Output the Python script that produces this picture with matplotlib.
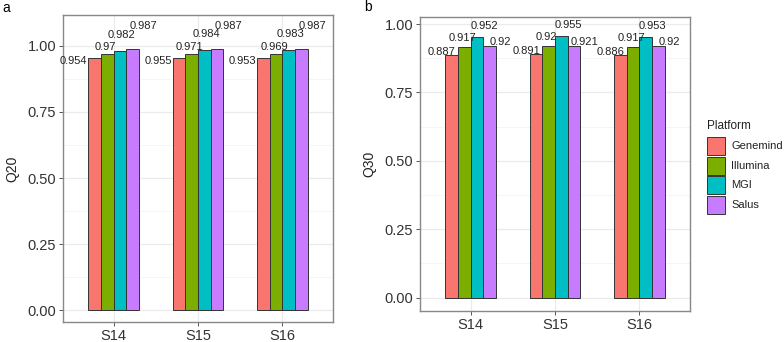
import matplotlib.pyplot as plt
from matplotlib.patches import Rectangle

samples = ['S14', 'S15', 'S16']
platforms = ['Genemind', 'Illumina', 'MGI', 'Salus']
colors = ['#F8766D', '#7CAE00', '#00BFC4', '#C77CFF']

q20 = {
    'Genemind': [0.954, 0.955, 0.953],
    'Illumina': [0.97, 0.971, 0.969],
    'MGI': [0.982, 0.984, 0.983],
    'Salus': [0.987, 0.987, 0.987],
}
q30 = {
    'Genemind': [0.887, 0.891, 0.886],
    'Illumina': [0.917, 0.92, 0.917],
    'MGI': [0.952, 0.955, 0.953],
    'Salus': [0.92, 0.921, 0.92],
}

plt.rcParams['font.family'] = ['Liberation Sans', 'DejaVu Sans']

W, H = 784, 342
fig = plt.figure(figsize=(W / 100, H / 100), dpi=100)


def px_axes(l, t, r, b):
    return fig.add_axes([l / W, 1 - b / H, (r - l) / W, (b - t) / H])


bar_w = 0.15
offs = [-0.225, -0.075, 0.075, 0.225]
# label nudges in pixels (x, y), as seen in the picture
nudge_a = [(-21, -3), (-2, 7), (2, 16), (11, 23)]
nudge_b = [(-10, 3), (-2, 9), (7, 11), (11, 4)]


def panel(ax, data, ylab, ylim, nudges):
    ax.set_facecolor('white')
    ax.set_xlim(0.4, 3.6)
    ax.set_ylim(*ylim)
    ax.set_yticks([0, 0.25, 0.5, 0.75, 1.0])
    ax.set_yticklabels(['0.00', '0.25', '0.50', '0.75', '1.00'])
    ax.set_yticks([0.125, 0.375, 0.625, 0.875], minor=True)
    ax.set_xticks([1, 2, 3])
    ax.set_xticklabels(samples)
    ax.grid(True, which='major', color='#EBEBEB', linewidth=0.9)
    ax.grid(True, which='minor', axis='y', color='#F4F4F4', linewidth=0.6)
    ax.set_axisbelow(True)
    ax.tick_params(which='minor', length=0)
    ax.tick_params(which='major', length=3, color='#555555', width=0.7,
                   labelsize=10.5, labelcolor='#333333', pad=2)
    for s in ax.spines.values():
        s.set_color('#888888')
        s.set_linewidth(1.0)
    for i, p in enumerate(platforms):
        xs = [k + 1 + offs[i] for k in range(len(samples))]
        ax.bar(xs, data[p], width=bar_w, color=colors[i],
               edgecolor='#333333', linewidth=0.7, zorder=3)
        for x, v in zip(xs, data[p]):
            dx, dy = nudges[i]
            ax.annotate(str(v), (x, v), xytext=(dx * 0.72, dy * 0.72),
                        textcoords='offset points', ha='center', va='center',
                        fontsize=8, color='#222222', zorder=4)
    ax.set_ylabel(ylab, fontsize=10, color='#222222', labelpad=6)


ax1 = px_axes(63, 15, 333, 322)
panel(ax1, q20, 'Q20', (-0.045, 1.117), nudge_a)
ax2 = px_axes(420, 17, 690, 311)
panel(ax2, q30, 'Q30', (-0.049, 1.026), nudge_b)

fig.text(2 / W, 1 - 8 / H, 'a', fontsize=10, va='center', ha='left')
fig.text(364 / W, 1 - 7 / H, 'b', fontsize=10, va='center', ha='left')

# legend drawn by hand to match the key size and spacing
fig.text(707 / W, 1 - 126 / H, 'Platform', fontsize=8.5, va='center',
         ha='left', color='#222222')
for i, (p, c) in enumerate(zip(platforms, colors)):
    top = 137 + i * 19.6
    fig.patches.append(Rectangle((707 / W, 1 - (top + 18) / H), 18 / W, 18 / H,
                                 transform=fig.transFigure, facecolor=c,
                                 edgecolor='#333333', linewidth=0.7))
    fig.text(731 / W, 1 - (top + 9) / H, p, fontsize=8, va='center',
             ha='left', color='#222222')

fig.savefig('out.png', dpi=100)
